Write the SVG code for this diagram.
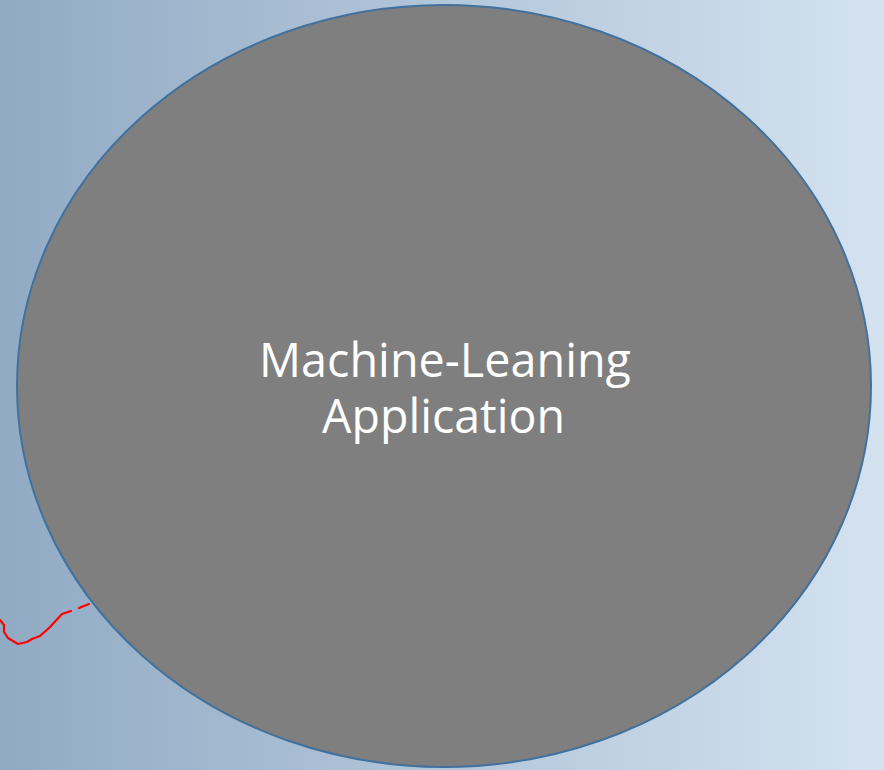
<svg xmlns="http://www.w3.org/2000/svg" width="884" height="770" viewBox="0 0 884 770">
<defs>
<linearGradient id="bg" x1="0" y1="0" x2="1" y2="0">
<stop offset="0" stop-color="#91aac4"/>
<stop offset="1" stop-color="#d4e2f0"/>
</linearGradient>
<style>
.lbl{font-family:"Open Sans","Noto Sans","Liberation Sans",sans-serif;font-size:47px;fill:#ffffff;text-anchor:middle}
</style>
</defs>
<rect x="0" y="0" width="884" height="770" fill="url(#bg)"/>
<g id="connectors">
<path d="M0,620 L4,625 L4,632 L8,638 L18,644 L27,642 L32,639 L40,636 L50,627 L62,614 L71,611" fill="none" stroke="#ff0000" stroke-width="2.2" stroke-linecap="round" stroke-linejoin="round"/>
<path d="M79,608 L89,604" fill="none" stroke="#ff0000" stroke-width="2.2" stroke-linecap="round"/>
</g>
<g id="ml-app">
<ellipse cx="444" cy="386" rx="427" ry="381" fill="#7f7f7f" stroke="#41719c" stroke-width="2"/>
<text class="lbl" x="445" y="377" textLength="372" lengthAdjust="spacingAndGlyphs">Machine-Leaning</text>
<text class="lbl" x="443.5" y="433" textLength="243" lengthAdjust="spacingAndGlyphs">Application</text>
</g>
</svg>
